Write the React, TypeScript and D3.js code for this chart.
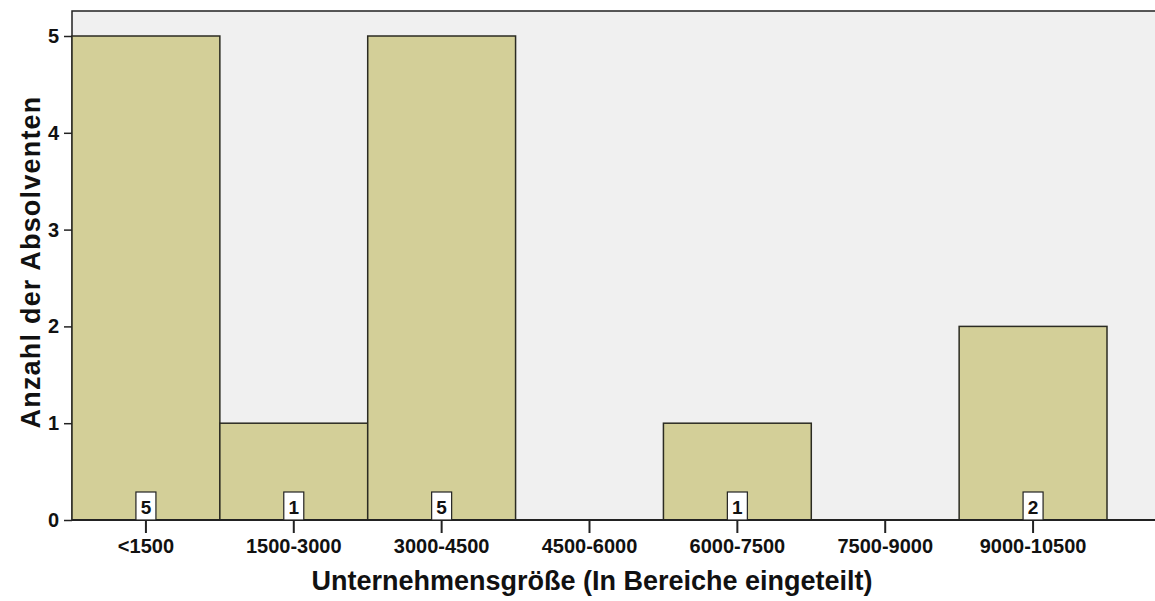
import React, { useRef, useEffect } from "react";
import * as d3 from "d3";

const categories = ["<1500", "1500-3000", "3000-4500", "4500-6000", "6000-7500", "7500-9000", "9000-10500"];
const counts = [5, 1, 5, 0, 1, 0, 2];
const yTicks = [0, 1, 2, 3, 4, 5];

const W = 1155;
const H = 601;
const FONT = "Liberation Sans, Arial, sans-serif";

const App = () => {
  const ref = useRef<SVGSVGElement | null>(null);

  useEffect(() => {
    const svg = d3.select(ref.current);
    svg.selectAll("*").remove();

    const left = 72;
    const top = 11;
    const bottom = 520;
    const barsRight = 1107;

    const x = d3.scaleBand().domain(categories).range([left, barsRight]).padding(0);
    const y = d3.scaleLinear().domain([0, 5]).range([bottom, 36]);

    svg.append("rect").attr("width", W).attr("height", H).attr("fill", "#ffffff");

    // plot area
    svg
      .append("rect")
      .attr("x", left)
      .attr("y", top)
      .attr("width", W - left + 2)
      .attr("height", bottom - top)
      .attr("fill", "#f0f0f0")
      .attr("stroke", "#222")
      .attr("stroke-width", 1.5);

    const filled = counts.map((c, i) => ({ c, cat: categories[i] })).filter((d) => d.c > 0);

    // bars
    svg
      .selectAll("rect.bar")
      .data(filled)
      .enter()
      .append("rect")
      .attr("class", "bar")
      .attr("x", (d) => x(d.cat)!)
      .attr("y", (d) => y(d.c))
      .attr("width", x.bandwidth())
      .attr("height", (d) => bottom - y(d.c))
      .attr("fill", "#d3cf98")
      .attr("stroke", "#2b2b22")
      .attr("stroke-width", 1.5);

    // baseline
    svg
      .append("line")
      .attr("x1", left)
      .attr("x2", W)
      .attr("y1", bottom)
      .attr("y2", bottom)
      .attr("stroke", "#222")
      .attr("stroke-width", 2);

    // value boxes
    const boxes = svg.selectAll("g.lbl").data(filled).enter().append("g").attr("class", "lbl");
    boxes
      .append("rect")
      .attr("x", (d) => x(d.cat)! + x.bandwidth() / 2 - 10)
      .attr("y", bottom - 28)
      .attr("width", 20)
      .attr("height", 28)
      .attr("fill", "#ffffff")
      .attr("stroke", "#222")
      .attr("stroke-width", 1.2);
    boxes
      .append("text")
      .attr("x", (d) => x(d.cat)! + x.bandwidth() / 2)
      .attr("y", bottom - 6)
      .attr("text-anchor", "middle")
      .attr("font-family", FONT)
      .attr("font-weight", "bold")
      .attr("font-size", 19)
      .attr("fill", "#111")
      .text((d) => d.c);

    // y axis ticks
    const yAxis = d3.axisLeft(y).tickValues(yTicks).tickSize(8).tickPadding(5).tickFormat(d3.format("d"));
    const gy = svg.append("g").attr("transform", `translate(${left},0)`).call(yAxis);
    gy.select(".domain").remove();
    gy.selectAll("line").attr("stroke", "#222").attr("stroke-width", 1.5);
    gy.selectAll("text")
      .attr("font-family", FONT)
      .attr("font-weight", "bold")
      .attr("font-size", 20)
      .attr("fill", "#111");

    // x axis ticks
    const xAxis = d3.axisBottom(x).tickSize(13).tickPadding(6);
    const gx = svg.append("g").attr("transform", `translate(0,${bottom})`).call(xAxis);
    gx.select(".domain").remove();
    gx.selectAll("line").attr("stroke", "#222").attr("stroke-width", 2);
    gx.selectAll("text")
      .attr("font-family", FONT)
      .attr("font-weight", "bold")
      .attr("font-size", 20)
      .attr("fill", "#111");

    // titles
    svg
      .append("text")
      .attr("x", 592)
      .attr("y", 590)
      .attr("text-anchor", "middle")
      .attr("font-family", FONT)
      .attr("font-weight", "bold")
      .attr("font-size", 27)
      .attr("fill", "#111")
      .text("Unternehmensgröße (In Bereiche eingeteilt)");

    svg
      .append("text")
      .attr("transform", `translate(40,262) rotate(-90)`)
      .attr("text-anchor", "middle")
      .attr("font-family", FONT)
      .attr("font-weight", "bold")
      .attr("font-size", 27)
      .attr("letter-spacing", 1.2)
      .attr("fill", "#111")
      .text("Anzahl der Absolventen");
  }, []);

  return (
    <div style={{ position: "fixed", left: 0, top: 0 }}>
      <svg ref={ref} width={W} height={H} style={{ display: "block" }} />
    </div>
  );
};

export default App;
